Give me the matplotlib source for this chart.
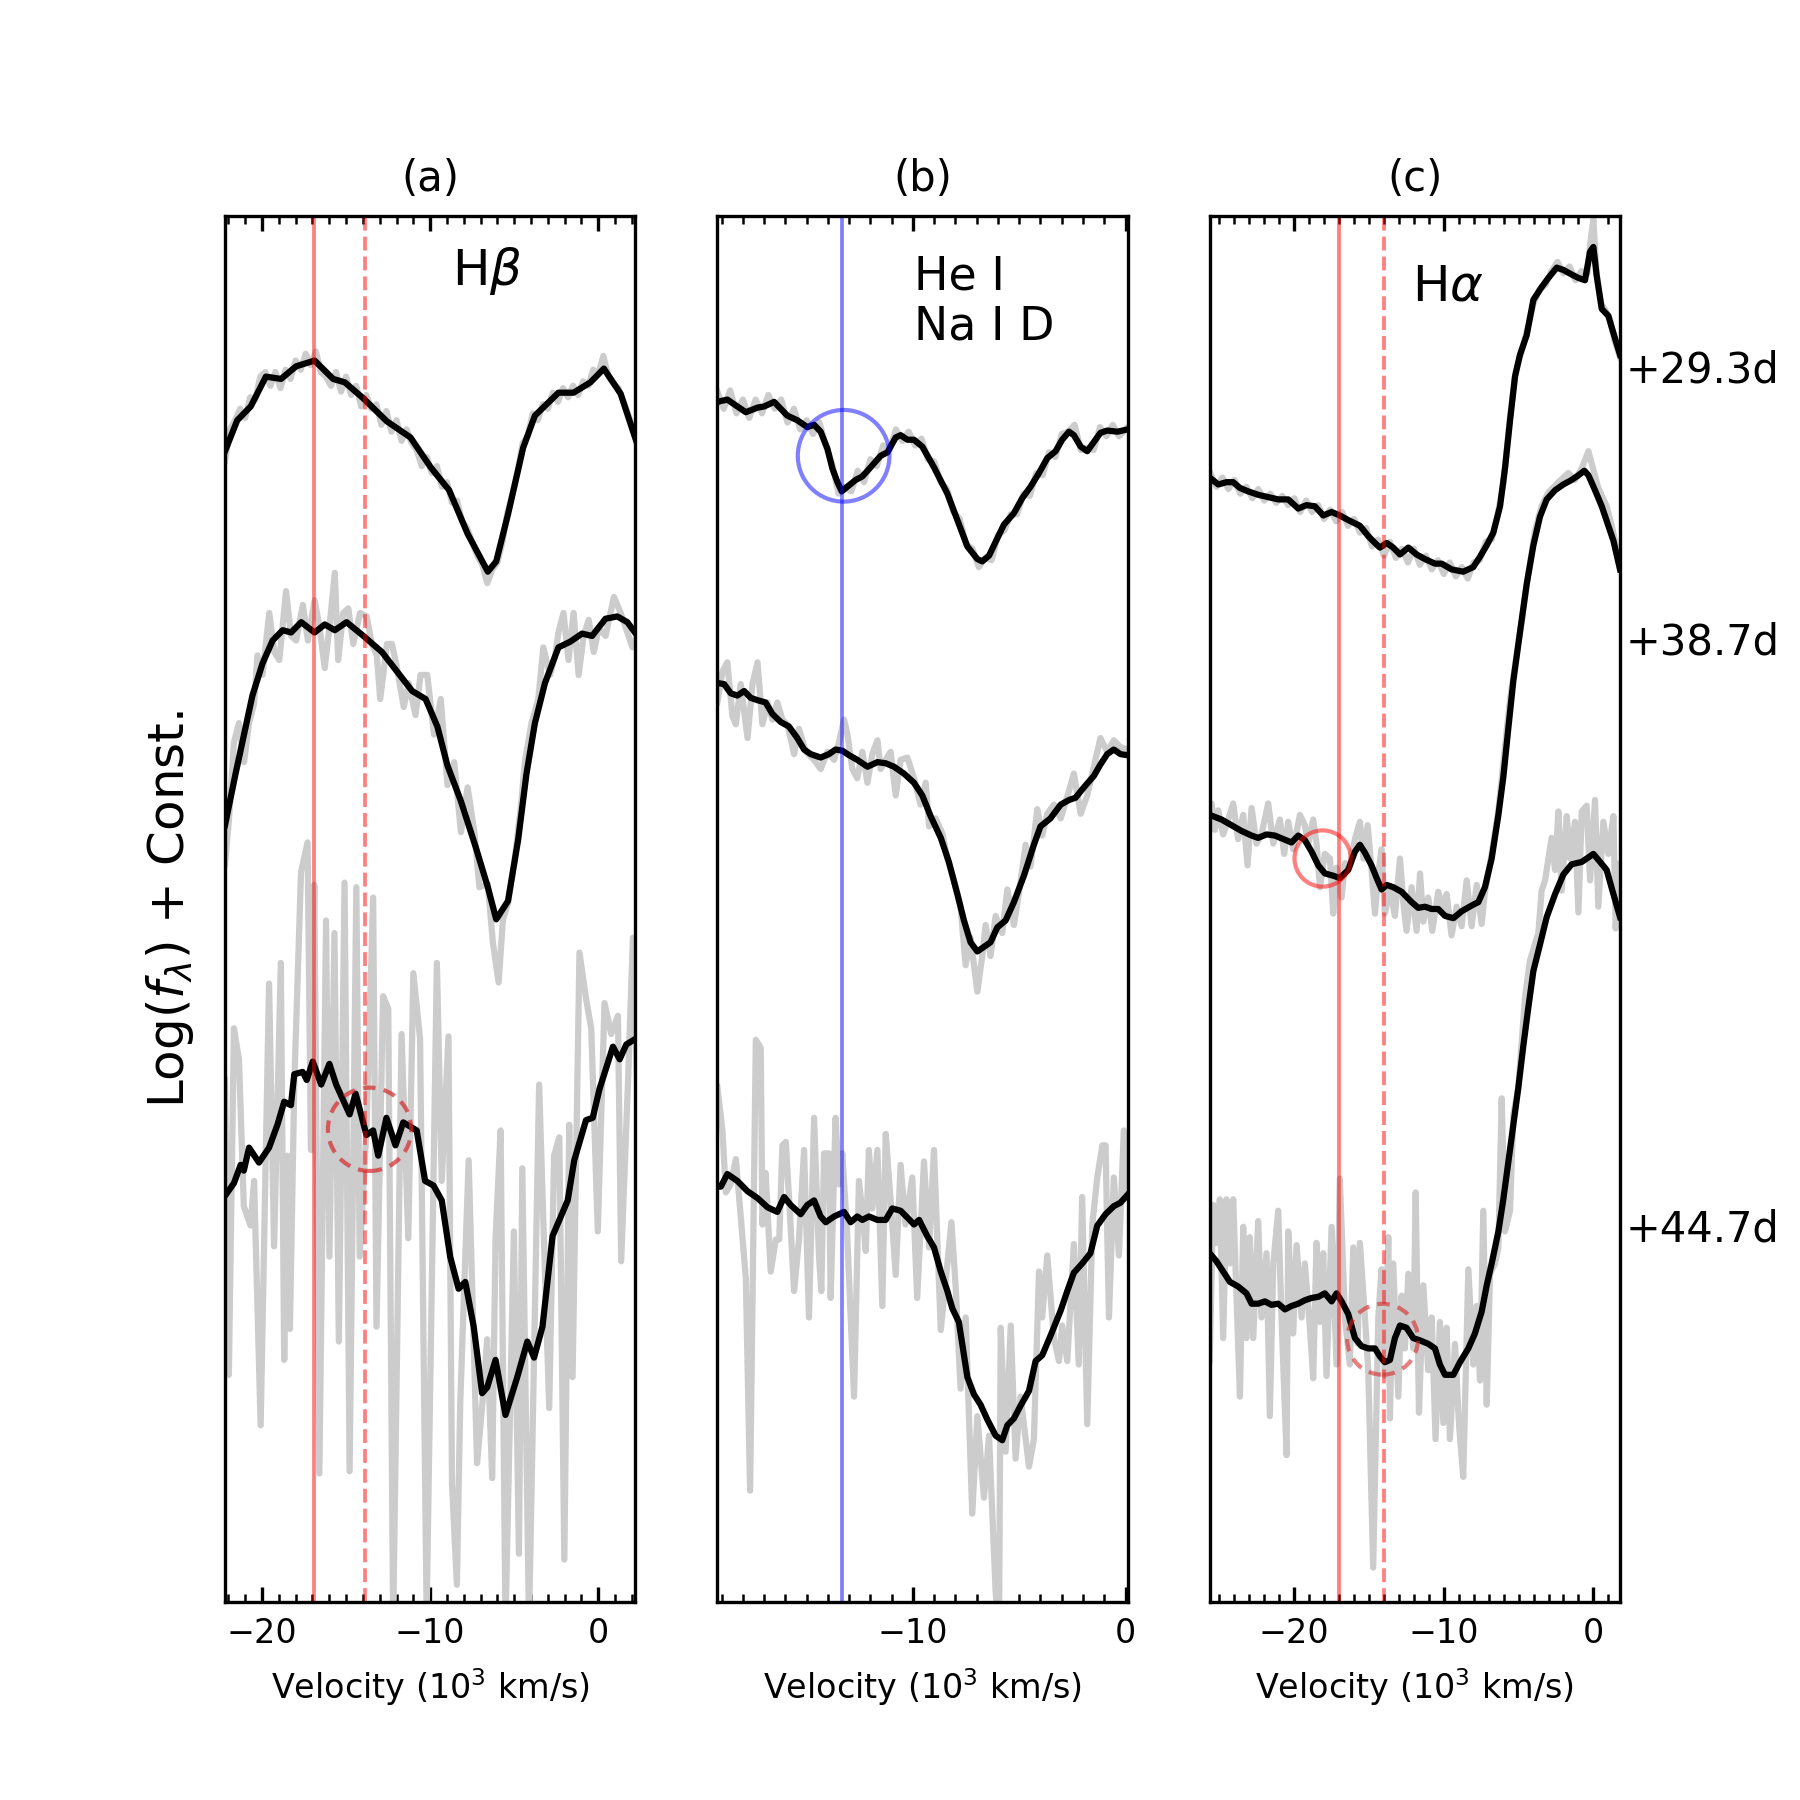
import matplotlib
matplotlib.use("Agg")
import matplotlib.pyplot as plt
from matplotlib.ticker import MultipleLocator

# velocity in 10^3 km/s, flux = log(f) + const (arbitrary units)
# ---- (a) H beta ----
hb1_smooth = [(-22.2, 1003), (-21.47, 1030), (-20.67, 1042), (-19.77, 1068), (-18.87, 1066), (-17.97, 1077),
              (-16.87, 1082), (-15.77, 1066), (-15.07, 1063), (-13.97, 1049), (-12.57, 1029), (-11.17, 1015),
              (-9.97, 989), (-8.87, 969), (-7.77, 931), (-6.57, 898), (-6.07, 907), (-5.37, 948), (-4.47, 1006),
              (-3.77, 1034), (-2.37, 1054), (-1.47, 1054), (-0.47, 1063), (0.33, 1075), (1.33, 1053), (2.23, 1013)]
hb1_raw = [(-22.2, 995), (-21.9, 1022), (-21.6, 1030), (-21.3, 1040), (-21.0, 1032), (-20.7, 1050), (-20.4, 1048),
           (-20.1, 1068), (-19.8, 1072), (-19.5, 1060), (-19.2, 1072), (-18.9, 1058), (-18.6, 1074), (-18.3, 1066),
           (-18.0, 1082), (-17.7, 1074), (-17.4, 1088), (-17.1, 1078), (-16.8, 1090), (-16.5, 1072), (-16.2, 1068),
           (-15.9, 1060), (-15.6, 1072), (-15.3, 1055), (-15.0, 1068), (-14.7, 1052), (-14.4, 1060), (-14.1, 1042),
           (-13.8, 1052), (-13.5, 1040), (-13.2, 1044), (-12.9, 1026), (-12.6, 1038), (-12.3, 1020), (-12.0, 1030),
           (-11.7, 1012), (-11.4, 1022), (-11.1, 1010), (-10.8, 1004), (-10.5, 990), (-10.2, 998), (-9.9, 984),
           (-9.6, 990), (-9.3, 972), (-9.0, 976), (-8.7, 958), (-8.4, 960), (-8.1, 942), (-7.8, 936), (-7.5, 924),
           (-7.2, 912), (-6.9, 904), (-6.6, 888), (-6.3, 900), (-6.0, 906), (-5.7, 924), (-5.4, 950), (-5.1, 966),
           (-4.8, 985), (-4.5, 1010), (-4.2, 1016), (-3.9, 1036), (-3.6, 1030), (-3.3, 1044), (-3.0, 1040),
           (-2.7, 1054), (-2.4, 1046), (-2.1, 1058), (-1.8, 1050), (-1.5, 1060), (-1.2, 1052), (-0.9, 1064),
           (-0.6, 1060), (-0.3, 1074), (0.0, 1070), (0.3, 1086), (0.6, 1068), (0.9, 1062), (1.2, 1058), (1.5, 1046),
           (1.8, 1034), (2.2, 1016)]

hb2_smooth = [(-22.2, 677), (-21.57, 722), (-21.07, 756), (-20.57, 790), (-19.97, 818), (-19.37, 838), (-18.77, 847),
              (-18.27, 845), (-17.67, 854), (-16.87, 845), (-16.27, 852), (-15.67, 847), (-14.97, 854), (-13.97, 842),
              (-12.87, 828), (-11.97, 811), (-11.07, 794), (-10.27, 787), (-9.57, 763), (-8.97, 729), (-8.17, 698),
              (-7.27, 657), (-6.57, 623), (-6.07, 595), (-5.37, 611), (-4.77, 664), (-4.27, 722), (-3.77, 766),
              (-3.17, 801), (-2.37, 832), (-1.67, 837), (-0.97, 844), (-0.37, 842), (0.43, 857), (1.13, 859),
              (1.73, 854), (2.23, 844)]
hb2_raw = [(-22.2, 643), (-21.97, 681), (-21.67, 749), (-21.37, 766), (-21.07, 732), (-20.77, 766), (-20.47, 783),
           (-20.27, 825), (-19.97, 808), (-19.57, 862), (-19.27, 828), (-18.97, 821), (-18.57, 881), (-18.27, 842),
           (-17.97, 838), (-17.57, 869), (-17.27, 838), (-16.87, 873), (-16.57, 849), (-16.27, 814), (-15.97, 852),
           (-15.67, 897), (-15.47, 821), (-15.17, 862), (-14.87, 866), (-14.57, 835), (-14.17, 862), (-13.77, 859),
           (-13.47, 835), (-13.17, 825), (-12.97, 787), (-12.57, 835), (-12.27, 835), (-11.97, 814), (-11.57, 780),
           (-11.27, 801), (-10.87, 773), (-10.57, 808), (-10.17, 808), (-9.77, 756), (-9.37, 787), (-8.97, 712),
           (-8.57, 732), (-8.17, 671), (-7.77, 710), (-7.37, 671), (-7.07, 623), (-6.57, 626), (-6.27, 575),
           (-5.93, 540), (-5.67, 595), (-5.37, 609), (-4.97, 647), (-4.57, 698), (-4.37, 732), (-3.97, 766),
           (-3.57, 787), (-3.27, 832), (-2.87, 808), (-2.57, 825), (-2.37, 845), (-2.07, 862), (-1.77, 821),
           (-1.47, 862), (-1.17, 808), (-0.87, 842), (-0.57, 856), (-0.27, 828), (0.03, 849), (0.43, 842),
           (0.93, 876), (1.33, 862), (1.73, 845), (2.03, 832), (2.3, 842)]

hb3_smooth = [(-22.2, 354), (-21.67, 365), (-21.27, 381), (-21.08, 376), (-20.77, 396), (-20.18, 383), (-19.58, 396),
              (-19.08, 416), (-18.68, 436), (-18.28, 433), (-18.08, 460), (-17.58, 462), (-17.34, 455), (-16.98, 471),
              (-16.48, 451), (-15.99, 469), (-15.59, 451), (-14.79, 425), (-14.43, 443), (-13.79, 407), (-13.39, 411),
              (-13.09, 389), (-12.6, 422), (-12.06, 398), (-11.6, 418), (-10.8, 411), (-10.3, 367), (-9.8, 363),
              (-9.31, 350), (-8.81, 301), (-8.31, 273), (-7.91, 279), (-7.41, 240), (-6.91, 182), (-6.61, 187),
              (-6.11, 211), (-5.52, 163), (-4.82, 196), (-4.22, 227), (-3.82, 213), (-3.32, 240), (-2.72, 319),
              (-1.82, 350), (-1.43, 385), (-0.73, 420), (-0.33, 422), (0.07, 447), (0.87, 484), (1.27, 473),
              (1.67, 486), (2.23, 491)]
hb3_raw = [(-22.2, 455), (-21.97, 198), (-21.67, 500), (-21.37, 473), (-21.08, 345), (-20.68, 328), (-20.47, 367),
           (-20.08, 154), (-19.58, 539), (-19.28, 310), (-18.88, 557), (-18.68, 211), (-18.48, 389), (-18.34, 238),
           (-18.08, 451), (-17.68, 636), (-17.29, 662), (-17.09, 394), (-16.89, 625), (-16.59, 112), (-16.19, 594),
           (-15.99, 301), (-15.69, 583), (-15.43, 227), (-15.09, 627), (-14.79, 114), (-14.39, 623), (-14.19, 301),
           (-13.79, 411), (-13.39, 614), (-13.19, 240), (-12.8, 528), (-12.49, 517), (-12.2, -20), (-11.7, 495),
           (-11.3, 317), (-11.0, 548), (-10.6, 491), (-10.21, -10), (-9.6, 557), (-9.31, 367), (-8.91, 493),
           (-8.7, 103), (-8.41, 15), (-8.21, 174), (-7.71, 385), (-7.21, 121), (-6.81, 187), (-6.61, 229),
           (-6.31, 108), (-6.11, 317), (-5.81, 411), (-5.52, -20), (-5.02, 323), (-4.72, 42), (-4.52, 378),
           (-4.12, -20), (-3.52, 451), (-2.92, 169), (-2.63, 389), (-2.32, 405), (-2.02, 37), (-1.73, 416),
           (-1.53, 196), (-1.12, 566), (-0.73, 526), (-0.42, 500), (-0.03, 323), (0.37, 522), (0.77, 495),
           (1.17, 511), (1.36, 297), (1.77, 455), (2.06, 579), (2.3, 455)]

# ---- (b) He I / Na I D ----
he1_smooth = [(-19.2, 1046), (-18.73, 1048), (-18.26, 1042), (-17.86, 1037), (-17.31, 1041), (-17.0, 1042),
              (-16.53, 1046), (-16.22, 1040), (-15.91, 1034), (-15.44, 1030), (-14.97, 1024), (-14.65, 1026),
              (-14.34, 1020), (-14.02, 1005), (-13.79, 988), (-13.55, 976), (-13.35, 968), (-13.09, 972),
              (-12.69, 978), (-12.38, 981), (-11.99, 989), (-11.52, 999), (-11.2, 1002), (-10.81, 1015),
              (-10.58, 1017), (-10.26, 1013), (-9.95, 1013), (-9.56, 1007), (-9.01, 989), (-8.38, 966), (-7.91, 943),
              (-7.44, 920), (-6.97, 909), (-6.74, 907), (-6.42, 912), (-6.11, 924), (-5.72, 939), (-5.25, 949),
              (-4.86, 962), (-4.47, 972), (-4.07, 984), (-3.68, 997), (-3.29, 1003), (-2.98, 1013), (-2.66, 1020),
              (-2.43, 1017), (-2.11, 1007), (-1.8, 1003), (-1.49, 1011), (-1.18, 1019), (-0.86, 1021),
              (-0.39, 1020), (0.1, 1022)]
he1_raw = [(-19.2, 1055), (-18.9, 1040), (-18.6, 1056), (-18.3, 1036), (-18.0, 1048), (-17.7, 1032), (-17.4, 1048),
           (-17.1, 1036), (-16.8, 1052), (-16.5, 1040), (-16.2, 1048), (-15.9, 1028), (-15.6, 1040), (-15.3, 1022),
           (-15.0, 1030), (-14.7, 1018), (-14.4, 1028), (-14.1, 1008), (-13.8, 992), (-13.5, 966), (-13.2, 972),
           (-12.9, 968), (-12.6, 986), (-12.3, 976), (-12.0, 996), (-11.7, 990), (-11.4, 1008), (-11.1, 1004),
           (-10.8, 1022), (-10.5, 1012), (-10.2, 1020), (-9.9, 1008), (-9.6, 1014), (-9.3, 996), (-9.0, 994),
           (-8.7, 976), (-8.4, 970), (-8.1, 950), (-7.8, 944), (-7.5, 922), (-7.2, 918), (-6.9, 902), (-6.6, 910),
           (-6.3, 908), (-6.0, 930), (-5.7, 934), (-5.4, 948), (-5.1, 948), (-4.8, 966), (-4.5, 964), (-4.2, 984),
           (-3.9, 982), (-3.6, 1002), (-3.3, 998), (-3.0, 1018), (-2.7, 1020), (-2.4, 1026), (-2.1, 1004),
           (-1.8, 1006), (-1.5, 1004), (-1.2, 1024), (-0.9, 1016), (-0.6, 1026), (-0.3, 1016), (0.1, 1024)]

he2_smooth = [(-19.2, 801), (-18.88, 800), (-18.57, 792), (-18.26, 790), (-17.94, 794), (-17.63, 788), (-17.31, 786),
              (-16.93, 784), (-16.61, 774), (-16.22, 767), (-15.83, 763), (-15.44, 753), (-15.12, 743), (-14.81, 739),
              (-14.34, 736), (-13.95, 739), (-13.64, 743), (-13.32, 742), (-13.0, 738), (-12.62, 734), (-12.14, 728),
              (-11.67, 732), (-11.28, 731), (-10.89, 728), (-10.42, 722), (-9.95, 714), (-9.56, 703), (-9.17, 685),
              (-8.69, 666), (-8.31, 645), (-7.91, 617), (-7.6, 594), (-7.29, 575), (-6.97, 567), (-6.66, 571),
              (-6.35, 575), (-6.03, 588), (-5.64, 594), (-5.25, 610), (-4.78, 633), (-4.31, 660), (-4.0, 676),
              (-3.53, 683), (-3.05, 695), (-2.66, 699), (-2.35, 701), (-1.96, 710), (-1.49, 720), (-1.18, 730),
              (-0.86, 739), (-0.55, 743), (-0.24, 739), (0.1, 738)]
he2_raw = [(-19.2, 784), (-18.96, 811), (-18.73, 819), (-18.49, 772), (-18.33, 765), (-18.1, 800), (-17.78, 753),
           (-17.55, 800), (-17.31, 819), (-17.08, 765), (-16.84, 784), (-16.61, 769), (-16.38, 784), (-16.14, 769),
           (-15.91, 765), (-15.59, 739), (-15.36, 761), (-15.04, 741), (-14.65, 734), (-14.34, 726), (-14.02, 741),
           (-13.71, 734), (-13.48, 749), (-13.24, 769), (-13.09, 757), (-12.85, 726), (-12.62, 718), (-12.38, 741),
           (-12.14, 714), (-11.91, 739), (-11.67, 751), (-11.52, 726), (-11.28, 734), (-11.05, 741), (-10.81, 703),
           (-10.58, 734), (-10.26, 736), (-9.95, 718), (-9.64, 695), (-9.4, 714), (-9.24, 676), (-8.93, 683),
           (-8.62, 670), (-8.38, 648), (-8.07, 629), (-7.76, 606), (-7.52, 555), (-7.29, 579), (-6.97, 532),
           (-6.74, 563), (-6.58, 590), (-6.35, 563), (-6.11, 598), (-5.8, 583), (-5.56, 621), (-5.25, 590),
           (-5.02, 617), (-4.7, 660), (-4.47, 641), (-4.15, 691), (-3.92, 668), (-3.68, 687), (-3.37, 695),
           (-3.05, 683), (-2.66, 707), (-2.43, 722), (-2.11, 687), (-1.8, 703), (-1.49, 728), (-1.18, 753),
           (-0.86, 741), (-0.55, 751), (-0.24, 745), (0.1, 743)]

he3_smooth = [(-19.2, 362), (-19.04, 362), (-18.73, 373), (-18.26, 367), (-17.78, 358), (-17.31, 352), (-16.84, 344),
              (-16.38, 340), (-16.06, 353), (-15.75, 346), (-15.28, 338), (-14.97, 346), (-14.65, 350), (-14.34, 336),
              (-14.1, 331), (-13.71, 336), (-13.24, 340), (-12.93, 331), (-12.62, 336), (-12.38, 333), (-12.07, 336),
              (-11.67, 333), (-11.28, 333), (-10.97, 343), (-10.58, 341), (-10.26, 335), (-9.95, 329), (-9.71, 333),
              (-9.33, 319), (-9.01, 309), (-8.69, 288), (-8.38, 271), (-8.15, 256), (-7.84, 244), (-7.44, 196),
              (-7.13, 181), (-6.82, 172), (-6.5, 159), (-6.11, 145), (-5.8, 141), (-5.56, 154), (-5.25, 160),
              (-4.94, 171), (-4.54, 184), (-4.23, 210), (-3.92, 215), (-3.53, 232), (-3.05, 254), (-2.74, 271),
              (-2.43, 287), (-2.04, 295), (-1.65, 304), (-1.33, 328), (-0.94, 338), (-0.55, 345), (-0.24, 348),
              (0.1, 355)]
he3_raw = [(-19.2, 449), (-18.96, 411), (-18.8, 357), (-18.57, 364), (-18.33, 386), (-18.1, 336), (-17.86, 282),
           (-17.66, 97), (-17.39, 490), (-17.16, 483), (-17.08, 329), (-16.93, 374), (-16.69, 288), (-16.45, 316),
           (-16.29, 316), (-16.14, 398), (-15.98, 401), (-15.78, 336), (-15.59, 271), (-15.36, 316), (-15.12, 394),
           (-14.89, 248), (-14.65, 422), (-14.42, 302), (-14.31, 271), (-14.18, 391), (-13.95, 391), (-13.87, 265),
           (-13.64, 422), (-13.48, 364), (-13.32, 391), (-13.09, 319), (-12.77, 179), (-12.54, 367), (-12.38, 340),
           (-12.22, 306), (-12.07, 394), (-11.91, 343), (-11.67, 394), (-11.44, 258), (-11.28, 408), (-11.05, 350),
           (-10.81, 285), (-10.58, 381), (-10.35, 329), (-10.03, 370), (-9.8, 265), (-9.48, 384), (-9.24, 309),
           (-9.01, 394), (-8.69, 237), (-8.38, 295), (-8.19, 331), (-7.99, 275), (-7.76, 186), (-7.52, 248),
           (-7.21, 77), (-6.97, 162), (-6.66, 91), (-6.42, 145), (-6.11, 9), (-5.95, -26), (-5.87, 239),
           (-5.64, 131), (-5.4, 241), (-5.17, 125), (-4.94, 179), (-4.54, 118), (-4.31, 142), (-4.07, 288),
           (-3.92, 248), (-3.68, 302), (-3.37, 230), (-3.13, 210), (-2.98, 241), (-2.74, 210), (-2.43, 312),
           (-2.2, 207), (-2.04, 353), (-1.8, 155), (-1.56, 329), (-1.33, 370), (-1.09, 398), (-0.94, 398),
           (-0.78, 248), (-0.55, 370), (-0.31, 302), (-0.08, 411), (0.1, 357)]

# ---- (c) H alpha ----
ha1_smooth = [(-25.65, 980), (-25.08, 974), (-24.53, 976), (-24.08, 976), (-23.63, 971), (-23.08, 968), (-22.41, 965),
              (-21.74, 963), (-21.07, 961), (-20.4, 961), (-19.73, 953), (-19.18, 956), (-18.62, 955), (-18.06, 947),
              (-17.5, 950), (-16.95, 947), (-16.39, 943), (-15.61, 938), (-15.05, 929), (-14.6, 923), (-14.27, 919),
              (-13.82, 923), (-13.38, 919), (-12.93, 913), (-12.37, 919), (-11.82, 913), (-11.26, 909), (-10.59, 905),
              (-10.14, 905), (-9.48, 900), (-8.7, 898), (-8.03, 902), (-7.58, 911), (-7.13, 921), (-6.69, 932),
              (-6.24, 955), (-5.91, 988), (-5.57, 1030), (-5.24, 1068), (-4.91, 1087), (-4.46, 1104), (-4.01, 1135),
              (-3.46, 1146), (-3.01, 1154), (-2.45, 1163), (-2.01, 1161), (-1.45, 1157), (-1.0, 1154), (-0.56, 1152),
              (-0.22, 1177), (0.0, 1181), (0.22, 1156), (0.56, 1127), (1.0, 1121), (1.34, 1106), (1.78, 1087)]
ha1_raw = [(-25.65, 985), (-25.2, 972), (-24.8, 980), (-24.4, 970), (-24.0, 978), (-23.6, 966), (-23.2, 972),
           (-22.8, 962), (-22.4, 970), (-22.0, 960), (-21.6, 966), (-21.2, 958), (-20.8, 964), (-20.4, 956),
           (-20.0, 962), (-19.6, 950), (-19.2, 960), (-18.8, 950), (-18.4, 956), (-18.0, 944), (-17.6, 952),
           (-17.2, 942), (-16.8, 950), (-16.4, 938), (-16.0, 944), (-15.6, 932), (-15.2, 936), (-14.8, 920),
           (-14.4, 926), (-14.0, 912), (-13.6, 924), (-13.2, 910), (-12.8, 918), (-12.4, 906), (-12.0, 918),
           (-11.6, 904), (-11.2, 912), (-10.8, 900), (-10.4, 908), (-10.0, 896), (-9.6, 906), (-9.2, 894),
           (-8.8, 902), (-8.4, 892), (-8.0, 906), (-7.6, 908), (-7.2, 924), (-6.8, 926), (-6.4, 948), (-6.0, 976),
           (-5.6, 1030), (-5.2, 1072), (-4.8, 1090), (-4.4, 1110), (-4.0, 1132), (-3.6, 1144), (-3.2, 1148),
           (-2.8, 1160), (-2.4, 1168), (-2.0, 1158), (-1.6, 1164), (-1.2, 1152), (-0.8, 1160), (-0.4, 1158),
           (-0.2, 1185), (0.0, 1205), (0.2, 1160), (0.5, 1132), (0.8, 1126), (1.1, 1118), (1.4, 1100), (1.78, 1085)]

ha2_smooth = [(-25.65, 686), (-24.86, 682), (-24.19, 677), (-23.52, 672), (-22.85, 668), (-22.41, 666), (-21.85, 669),
              (-21.29, 668), (-20.74, 665), (-20.18, 662), (-19.73, 668), (-19.29, 664), (-18.84, 654), (-18.39, 642),
              (-17.95, 635), (-17.39, 633), (-16.95, 631), (-16.39, 638), (-15.94, 654), (-15.61, 660), (-15.27, 653),
              (-14.83, 642), (-14.49, 631), (-14.16, 621), (-13.82, 625), (-13.38, 623), (-12.82, 619), (-12.15, 610),
              (-11.71, 605), (-11.26, 606), (-10.81, 604), (-10.37, 604), (-9.92, 598), (-9.36, 596), (-8.81, 602),
              (-8.14, 607), (-7.69, 610), (-7.25, 623), (-6.8, 648), (-6.35, 686), (-6.02, 719), (-5.69, 761),
              (-5.35, 803), (-4.91, 845), (-4.46, 887), (-4.01, 921), (-3.57, 946), (-3.12, 961), (-2.56, 969),
              (-2.01, 974), (-1.45, 978), (-1.0, 982), (-0.6, 986), (-0.33, 982), (0.11, 969), (0.56, 955),
              (1.0, 938), (1.34, 925), (1.78, 900)]
ha2_raw = [(-25.65, 690), (-25.53, 696), (-25.31, 673), (-25.08, 690), (-24.75, 669), (-24.41, 682), (-24.08, 696),
           (-23.75, 665), (-23.41, 686), (-23.12, 642), (-22.85, 692), (-22.52, 661), (-22.19, 669), (-21.74, 696),
           (-21.4, 661), (-20.96, 682), (-20.67, 652), (-20.4, 680), (-20.07, 656), (-19.62, 686), (-19.29, 677),
           (-19.06, 661), (-18.73, 682), (-18.51, 661), (-18.28, 623), (-17.95, 652), (-17.61, 648), (-17.39, 600),
           (-17.17, 640), (-16.83, 614), (-16.61, 644), (-16.28, 642), (-15.94, 665), (-15.61, 680), (-15.38, 648),
           (-15.09, 677), (-14.83, 638), (-14.6, 600), (-14.38, 635), (-14.16, 656), (-13.94, 600), (-13.6, 621),
           (-13.27, 598), (-12.93, 648), (-12.71, 610), (-12.49, 585), (-12.15, 623), (-11.82, 585), (-11.59, 635),
           (-11.37, 593), (-11.04, 614), (-10.77, 585), (-10.37, 619), (-10.03, 602), (-9.81, 617), (-9.48, 581),
           (-9.14, 606), (-8.81, 589), (-8.47, 629), (-8.14, 589), (-7.8, 625), (-7.47, 591), (-7.25, 619),
           (-6.8, 652), (-6.35, 690), (-5.91, 745), (-5.57, 787), (-5.24, 816), (-4.8, 854), (-4.35, 896),
           (-3.9, 934), (-3.46, 955), (-3.01, 967), (-2.34, 976), (-1.67, 984), (-1.23, 978), (-0.78, 988),
           (-0.33, 1003), (-0.11, 992), (0.33, 971), (0.89, 955), (1.23, 938), (1.78, 904)]

ha3_smooth = [(-25.65, 304), (-25.2, 297), (-24.75, 288), (-24.3, 279), (-23.75, 275), (-23.19, 269), (-22.85, 260),
              (-22.41, 260), (-21.96, 262), (-21.52, 259), (-21.07, 260), (-20.62, 255), (-20.18, 258), (-19.73, 260),
              (-19.29, 263), (-18.84, 265), (-18.39, 266), (-17.95, 269), (-17.5, 262), (-17.17, 269), (-16.83, 262),
              (-16.39, 251), (-15.94, 230), (-15.5, 223), (-15.05, 221), (-14.6, 221), (-14.27, 214), (-13.94, 209),
              (-13.6, 211), (-13.27, 230), (-12.93, 241), (-12.49, 239), (-12.04, 230), (-11.59, 228), (-11.04, 225),
              (-10.59, 221), (-10.26, 207), (-9.92, 198), (-9.36, 198), (-8.92, 209), (-8.36, 221), (-7.92, 234),
              (-7.47, 253), (-7.13, 276), (-6.8, 295), (-6.35, 323), (-6.02, 351), (-5.69, 383), (-5.35, 416),
              (-5.02, 448), (-4.68, 485), (-4.35, 518), (-4.01, 550), (-3.57, 573), (-3.12, 597), (-2.56, 617),
              (-2.01, 634), (-1.45, 643), (-0.78, 645), (-0.33, 649), (0.0, 652), (0.45, 645), (0.89, 638),
              (1.23, 622), (1.78, 597)]
ha3_raw = [(-25.65, 211), (-25.42, 346), (-25.2, 313), (-24.97, 351), (-24.75, 230), (-24.53, 351), (-24.3, 295),
           (-24.08, 351), (-23.86, 267), (-23.63, 179), (-23.41, 327), (-23.19, 230), (-22.97, 318), (-22.74, 230),
           (-22.41, 332), (-22.19, 248), (-21.85, 304), (-21.63, 162), (-21.4, 295), (-21.07, 341), (-20.85, 248),
           (-20.51, 128), (-20.4, 323), (-20.07, 234), (-19.84, 311), (-19.51, 248), (-19.29, 295), (-18.95, 239),
           (-18.73, 195), (-18.51, 313), (-18.28, 244), (-18.06, 304), (-17.84, 197), (-17.5, 327), (-17.17, 207),
           (-16.95, 369), (-16.61, 248), (-16.28, 207), (-16.05, 309), (-15.76, 225), (-15.61, 313), (-15.27, 248),
           (-15.05, 202), (-14.72, 30), (-14.38, 248), (-14.16, 290), (-13.94, 197), (-13.71, 318), (-13.6, 160),
           (-13.38, 295), (-13.04, 179), (-12.82, 267), (-12.6, 221), (-12.37, 286), (-12.04, 221), (-11.88, 357),
           (-11.66, 165), (-11.37, 276), (-11.04, 202), (-10.81, 248), (-10.55, 142), (-10.26, 244), (-10.03, 156),
           (-9.81, 239), (-9.59, 142), (-9.25, 225), (-8.99, 156), (-8.7, 109), (-8.36, 290), (-8.03, 207),
           (-7.8, 258), (-7.58, 193), (-7.36, 341), (-7.13, 172), (-6.91, 286), (-6.58, 295), (-6.35, 309),
           (-6.13, 439), (-5.91, 323), (-5.57, 341), (-5.35, 425), (-5.02, 448), (-4.57, 527), (-4.24, 559),
           (-3.68, 583), (-3.46, 620), (-3.23, 629), (-2.79, 666), (-2.56, 638), (-2.34, 689), (-2.12, 620),
           (-1.78, 685), (-1.56, 648), (-1.23, 680), (-1.0, 601), (-0.78, 689), (-0.45, 694), (-0.22, 629),
           (0.11, 699), (0.33, 606), (0.67, 680), (1.0, 652), (1.34, 685), (1.49, 587), (1.78, 643)]

panel_titles = ["(a)", "(b)", "(c)"]
panel_xlims = [(-22.2, 2.2), (-19.2, 0.1), (-25.65, 1.78)]
epochs = ["+29.3d", "+38.7d", "+44.7d"]
epoch_y = [1063, 826, 314]

fig, axes = plt.subplots(1, 3, figsize=(6, 6), dpi=300)

spectra = [[(hb1_raw, hb1_smooth), (hb2_raw, hb2_smooth), (hb3_raw, hb3_smooth)],
           [(he1_raw, he1_smooth), (he2_raw, he2_smooth), (he3_raw, he3_smooth)],
           [(ha1_raw, ha1_smooth), (ha2_raw, ha2_smooth), (ha3_raw, ha3_smooth)]]

for ax, specs, xl, ttl in zip(axes, spectra, panel_xlims, panel_titles):
    for raw, smooth in specs:
        v, f = zip(*raw)
        ax.plot(v, f, color='0.8', lw=1.5)
        v, f = zip(*smooth)
        ax.plot(v, f, color='k', lw=1.5)
    ax.set_xlim(xl)
    ax.set_ylim(0, 1208)
    ax.set_yticks([])
    ax.xaxis.set_major_locator(MultipleLocator(10))
    ax.xaxis.set_minor_locator(MultipleLocator(1))
    ax.tick_params(axis='x', which='both', direction='in', top=True, bottom=True, labelsize=8)
    ax.set_xlabel('Velocity (10$^3$ km/s)', fontsize=8)
    ax.set_title(ttl, fontsize=10)

ax1, ax2, ax3 = axes

# velocity markers
ax1.axvline(-16.9, color='red', alpha=0.5, lw=0.9)
ax1.axvline(-13.9, color='red', alpha=0.5, lw=0.9, ls='--')
ax2.axvline(-13.35, color='blue', alpha=0.5, lw=0.9)
ax3.axvline(-17, color='red', alpha=0.5, lw=0.9)
ax3.axvline(-14, color='red', alpha=0.5, lw=0.9, ls='--')

# circled features
ax1.scatter([-13.6], [412], s=20 ** 2, facecolors='none', edgecolors='tab:red', alpha=0.7,
            linewidths=1, linestyle=(0, (3, 2)), zorder=5)
ax2.scatter([-13.26], [999], s=22 ** 2, facecolors='none', edgecolors='blue', alpha=0.5,
            linewidths=1, zorder=5)
ax3.scatter([-18.1], [648], s=13.5 ** 2, facecolors='none', edgecolors='red', alpha=0.5,
            linewidths=1, zorder=5)
ax3.scatter([-14.09], [229], s=17 ** 2, facecolors='none', edgecolors='tab:red', alpha=0.6,
            linewidths=1, linestyle=(0, (3, 2)), zorder=5)

# line names
ax1.text(-8.7, 1148, r'H$\beta$', fontsize=12)
ax2.text(-9.95, 1144, 'He I', fontsize=11)
ax2.text(-9.95, 1100, 'Na I D', fontsize=11)
ax3.text(-12.1, 1134, r'H$\alpha$', fontsize=12)

for lab, y in zip(epochs, epoch_y):
    ax3.text(2.13, y, lab, fontsize=10, clip_on=False)

ax1.set_ylabel(r'Log($f_\lambda$) + Const.', fontsize=12, labelpad=7)

fig.savefig('out.png', dpi=300)
